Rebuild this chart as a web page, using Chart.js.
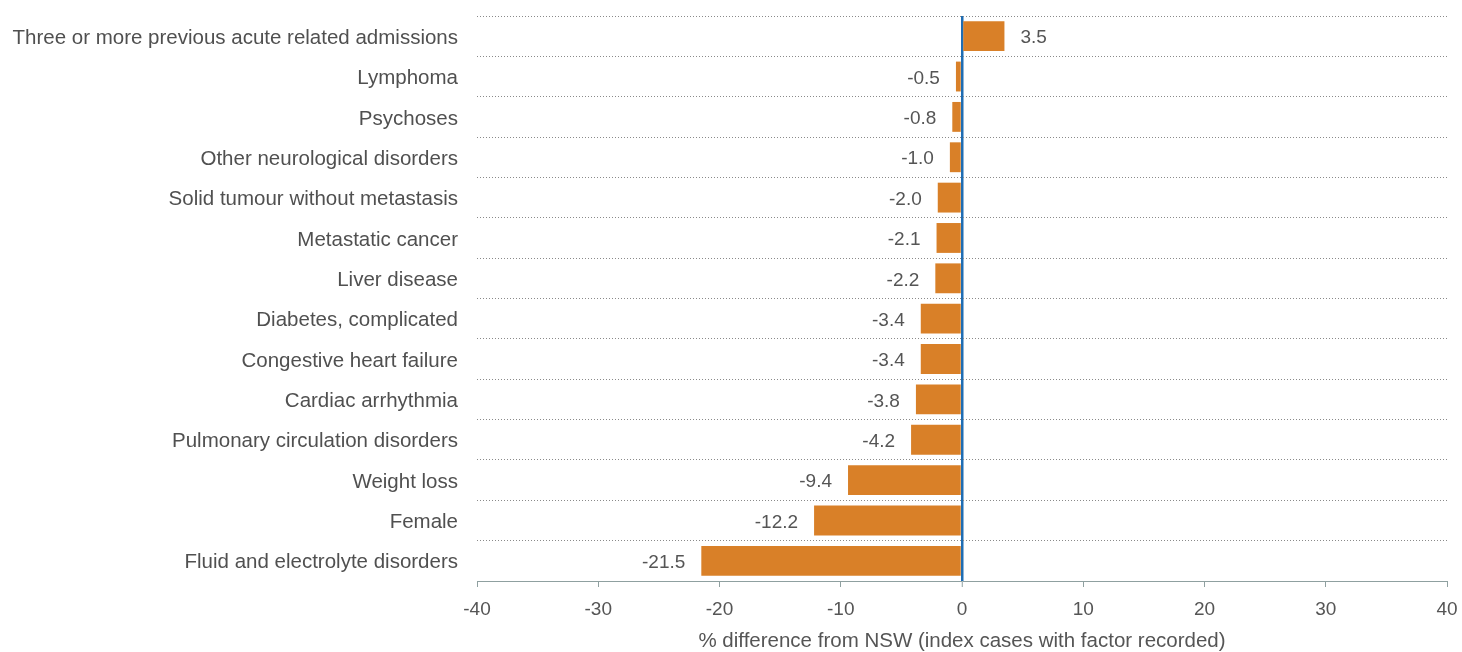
<!DOCTYPE html>
<html>
<head>
<meta charset="utf-8">
<script src="https://cdn.jsdelivr.net/npm/chart.js@4"></script>
<style>
  html, body { margin: 0; padding: 0; background: #fff; overflow: hidden; }
  #wrap { width: 1462px; height: 652px; }
</style>
</head>
<body>
<div id="wrap"><canvas id="chart"></canvas></div>
<script>
const categories = [
  "Three or more previous acute related admissions",
  "Lymphoma",
  "Psychoses",
  "Other neurological disorders",
  "Solid tumour without metastasis",
  "Metastatic cancer",
  "Liver disease",
  "Diabetes, complicated",
  "Congestive heart failure",
  "Cardiac arrhythmia",
  "Pulmonary circulation disorders",
  "Weight loss",
  "Female",
  "Fluid and electrolyte disorders"
];
const values = [3.5, -0.5, -0.8, -1.0, -2.0, -2.1, -2.2, -3.4, -3.4, -3.8, -4.2, -9.4, -12.2, -21.5];
const xTitle = "% difference from NSW (index cases with factor recorded)";

const FONT = "'Liberation Sans', Arial, sans-serif";

// value labels beside each bar end
const valueLabels = {
  id: "valueLabels",
  afterDatasetsDraw(chart) {
    const c = chart.ctx;
    const meta = chart.getDatasetMeta(0);
    c.save();
    c.font = "19px " + FONT;
    c.fillStyle = "#555555";
    c.textBaseline = "middle";
    meta.data.forEach((bar, i) => {
      const v = values[i];
      if (v >= 0) {
        c.textAlign = "left";
        c.fillText(v.toFixed(1), bar.x + 16, bar.y + 2);
      } else {
        c.textAlign = "right";
        c.fillText(v.toFixed(1), bar.x - 16, bar.y + 2);
      }
    });
    c.restore();
  }
};

const ctx = document.getElementById("chart").getContext("2d");

new Chart(ctx, {
  type: "bar",
  data: {
    labels: categories,
    datasets: [{
      data: values,
      backgroundColor: "#D98028",
      borderWidth: 0,
      categoryPercentage: 1,
      barPercentage: 0.74
    }]
  },
  options: {
    indexAxis: "y",
    responsive: true,
    maintainAspectRatio: false,
    animation: false,
    layout: { padding: { top: 16, right: 15, left: 0, bottom: 0 } },
    plugins: {
      legend: { display: false },
      tooltip: { enabled: false }
    },
    scales: {
      x: {
        min: -40,
        max: 40,
        z: 1,
        ticks: {
          stepSize: 10,
          color: "#555555",
          padding: 11,
          font: { family: FONT, size: 19 }
        },
        border: { display: true, color: "#8fa0a0", width: 1 },
        grid: {
          drawOnChartArea: true,
          drawTicks: true,
          tickLength: 6,
          color: (c) => (c.tick && c.tick.value === 0 ? "#1f6db3" : "rgba(0,0,0,0)"),
          lineWidth: (c) => (c.tick && c.tick.value === 0 ? 2.5 : 1),
          tickColor: "#8fa0a0",
          tickWidth: 1
        },
        title: {
          display: true,
          text: xTitle,
          color: "#555555",
          font: { family: FONT, size: 20.5 },
          padding: { top: 4, bottom: -2 }
        },
        afterFit(scale) {
          scale.height = 71;
          scale.paddingLeft = 0;
          scale.paddingRight = 0;
        }
      },
      y: {
        ticks: {
          color: "#505050",
          padding: 19,
          labelOffset: 2,
          font: { family: FONT, size: 20.5 }
        },
        border: { display: false, dash: [1, 2] },
        grid: {
          offset: true,
          drawTicks: false,
          color: "#8a8a8a",
          lineWidth: 1
        },
        afterFit(scale) {
          scale.width = 477;
          scale.paddingTop = 0;
          scale.paddingBottom = 0;
        }
      }
    }
  },
  plugins: [valueLabels]
});
</script>
</body>
</html>
